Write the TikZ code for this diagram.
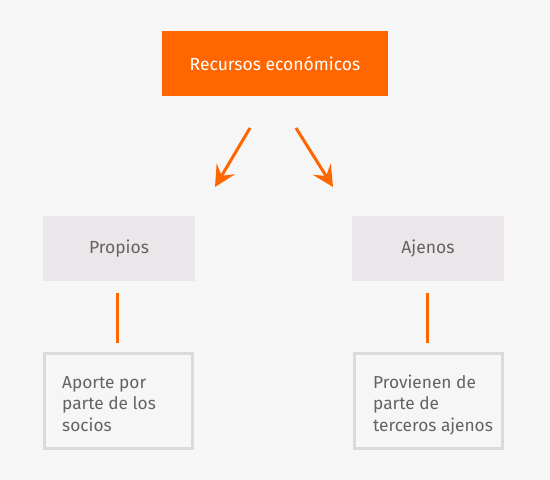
\documentclass[tikz,border=0pt]{standalone}
\usepackage{fontspec}
\setmainfont{Fira Sans}[Scale=1]
\usetikzlibrary{arrows.meta}
\definecolor{bgc}{HTML}{F6F6F6}
\definecolor{org}{HTML}{FF6600}
\definecolor{lbox}{HTML}{EAE6E9}
\definecolor{bord}{HTML}{DADADA}
\definecolor{txt}{HTML}{636363}
\tikzset{
  topbox/.style={fill=org, text=white, minimum width=226pt, minimum height=65pt, inner sep=0pt, font=\fontsize{17.5}{21}\selectfont},
  catbox/.style={fill=lbox, text=txt, minimum width=152pt, minimum height=65pt, inner sep=0pt, font=\fontsize{17.5}{21}\selectfont},
  descbox/.style={draw=bord, line width=3pt, fill=bgc, text=txt, minimum width=148pt, minimum height=95pt, inner sep=0pt},
  desctext/.style={text=txt, anchor=base west, inner sep=0pt, align=left, font=\fontsize{17.3}{21.5}\selectfont},
  orarrow/.style={draw=org, line width=3pt, -{Stealth[length=21pt, width=21pt, inset=8pt]}},
  orline/.style={draw=org, line width=3pt},
}
\begin{document}
\begin{tikzpicture}[x=1pt, y=-1pt]
\fill[bgc] (0,0) rectangle (550,480);
\useasboundingbox (0,0) rectangle (550,480);
\node[topbox] (top) at (275,63.5) {Recursos económicos};
\coordinate (a1s) at (250,128);
\coordinate (a1e) at (215,187);
\coordinate (a2s) at (296,128);
\coordinate (a2e) at (333,187);
\draw[orarrow] (a1s) -- (a1e);
\draw[orarrow] (a2s) -- (a2e);
\node[catbox] (prop) at (119,248.5) {Propios};
\node[catbox] (ajen) at (428,248.5) {Ajenos};
\node[descbox] (d1) at (118.5,401) {};
\node[descbox] (d2) at (428,401) {};
\coordinate (l1s) at (117,293);
\coordinate (l1e) at (117,343);
\coordinate (l2s) at (427,293);
\coordinate (l2e) at (427,343);
\draw[orline] (l1s) -- (l1e);
\draw[orline] (l2s) -- (l2e);
\node[desctext] (t1) at (62,431) {Aporte por\\parte de los\\socios};
\node[desctext] (t2) at (373,431) {Provienen de\\parte de\\terceros ajenos};
\end{tikzpicture}
\end{document}
